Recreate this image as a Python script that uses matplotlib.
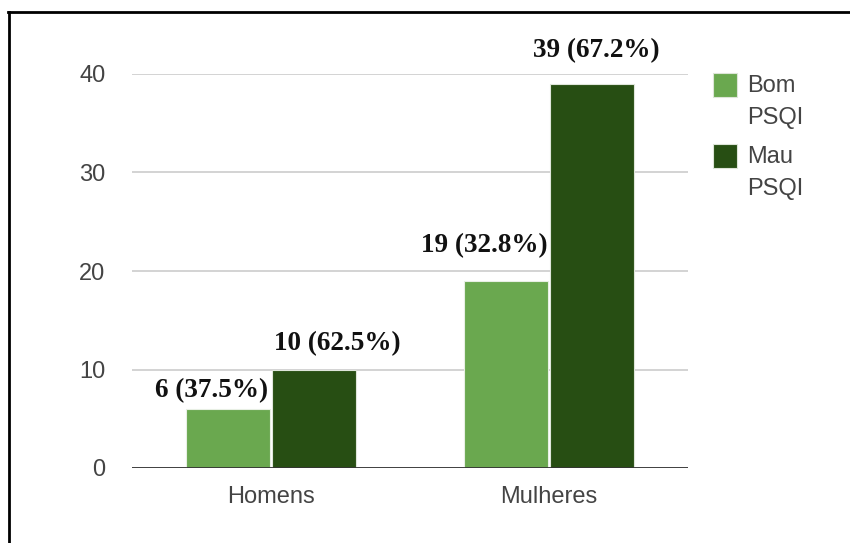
import numpy as np
import matplotlib.pyplot as plt
from matplotlib.patches import Rectangle
from matplotlib.lines import Line2D

categories = ["Homens", "Mulheres"]
series = ["Bom\nPSQI", "Mau\nPSQI"]
bom = [6, 19]
mau = [10, 39]
bom_labels = ["6 (37.5%)", "19 (32.8%)"]
mau_labels = ["10 (62.5%)", "39 (67.2%)"]
colors = ["#6aa84f", "#274e13"]

# label offsets (pixels) from bar top centre, as placed in the original
bom_off = [(-16, 18), (-22, 35)]
mau_off = [(23, 26), (4, 33)]

fig = plt.figure(figsize=(8.5, 5.43), dpi=100)
ax = fig.add_axes((132 / 850, 1 - 468 / 543, 556 / 850, 394 / 543))

x = np.arange(len(categories))
w = 0.30
b1 = ax.bar(x - 0.155, bom, w, color=colors[0], edgecolor="#e8efe4", linewidth=0.8, zorder=3)
b2 = ax.bar(x + 0.155, mau, w, color=colors[1], edgecolor="#dfe6db", linewidth=0.8, zorder=3)

lab_font = dict(family="Liberation Serif", fontweight="bold", fontsize=19.5, color="#111111")
for bars, labels, offs in [(b1, bom_labels, bom_off), (b2, mau_labels, mau_off)]:
    for r, t, (dx, dy) in zip(bars, labels, offs):
        ax.annotate(t, (r.get_x() + r.get_width() / 2, r.get_height()),
                    xytext=(dx, dy), textcoords="offset pixels",
                    ha="center", va="center", annotation_clip=False, **lab_font)

ax.set_xlim(-0.5, 1.5)
ax.set_ylim(0, 40)
ax.set_yticks([0, 10, 20, 30, 40])
ax.set_xticks(x)
ax.set_xticklabels(categories)
ax.grid(axis="y", color="#cccccc", linewidth=1.2, zorder=0)
ax.axhline(0, color="#333333", linewidth=2, zorder=4)
for s in ax.spines.values():
    s.set_visible(False)
ax.tick_params(length=0, labelsize=17, colors="#444444")
ax.tick_params(axis="y", pad=19)
ax.tick_params(axis="x", pad=13)
for lbl in ax.get_xticklabels() + ax.get_yticklabels():
    lbl.set_family("Liberation Sans")

# legend, drawn like the original (square aligned to first text line)
leg_y = [73, 144]
for name, c, yy in zip(series, colors, leg_y):
    fig.add_artist(Rectangle((713 / 850, 1 - (yy + 24) / 543), 24 / 850, 24 / 543,
                             transform=fig.transFigure, facecolor=c, edgecolor="#dde5d8", lw=0.8))
    fig.text(747 / 850, 1 - (yy + 2) / 543, name, va="top", ha="left",
             fontsize=17, color="#444444", family="Liberation Sans", linespacing=1.6)

# frame lines at left and top
fig.add_artist(Line2D([9 / 850, 9 / 850], [0, 1 - 12 / 543], transform=fig.transFigure, color="black", lw=2))
fig.add_artist(Line2D([8 / 850, 1], [1 - 12 / 543, 1 - 12 / 543], transform=fig.transFigure, color="black", lw=2))

fig.savefig("out.png", dpi=100)
